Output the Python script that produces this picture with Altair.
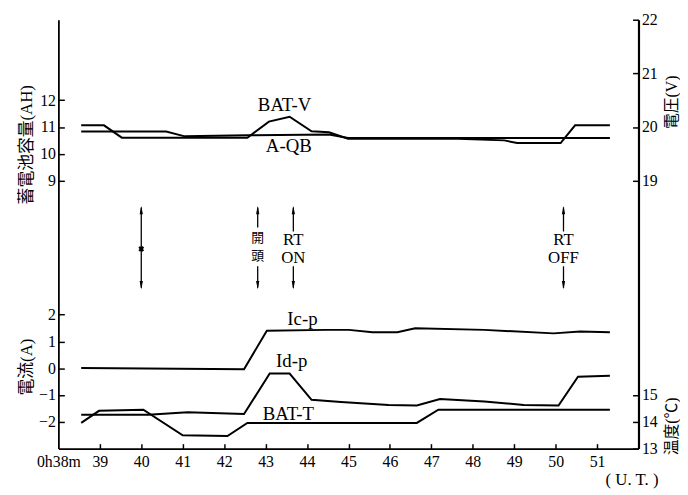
import altair as alt
import pandas as pd

# ---- data (minutes after 0h38m scale, U.T.) ----
batv_t = [38.55, 39.10, 39.53, 42.56, 43.08, 43.58, 44.11, 44.53, 44.99, 47.64, 48.76, 49.07, 50.12, 50.47, 51.31]
batv_v = [20.03, 20.03, 19.80, 19.80, 20.10, 20.19, 19.92, 19.90, 19.78, 19.78, 19.75, 19.70, 19.70, 20.03, 20.03]

aqb_t = [38.55, 40.60, 41.05, 42.56, 44.53, 44.99, 51.31]
aqb_ah = [10.83, 10.83, 10.65, 10.69, 10.72, 10.59, 10.59]

icp_t = [38.55, 42.48, 43.03, 44.46, 45.01, 45.58, 46.18, 46.61, 48.28, 49.95, 50.59, 51.31]
icp_a = [0.01, -0.04, 1.40, 1.43, 1.43, 1.34, 1.34, 1.49, 1.43, 1.30, 1.37, 1.34]

idp_t = [38.55, 40.17, 41.12, 42.48, 43.10, 43.58, 44.11, 44.82, 45.97, 46.65, 47.21, 48.28, 49.23, 50.07, 50.54, 51.31]
idp_a = [-1.74, -1.74, -1.64, -1.71, -0.20, -0.20, -1.18, -1.26, -1.37, -1.39, -1.15, -1.24, -1.37, -1.39, -0.32, -0.28]

batt_t = [38.55, 38.98, 40.05, 41.00, 42.08, 42.56, 46.65, 47.17, 51.31]
batt_c = [13.96, 14.41, 14.45, 13.50, 13.47, 13.96, 13.96, 14.45, 14.45]

# event arrows (drawn on the capacity scale)
arrow_t = [40.0, 42.81, 43.67, 50.19]
seg_t = [40.0, 42.81, 42.81, 43.67, 43.67, 50.19, 50.19]
seg_y1 = [8.0, 8.0, 5.8, 8.0, 5.8, 8.0, 5.8]
seg_y2 = [5.0, 7.25, 5.0, 7.1, 5.0, 7.1, 5.0]
arrow_top = [7.9, 7.9, 7.9, 7.9]
arrow_bot = [5.1, 5.1, 5.1, 5.1]
cross_t = [40.0]
cross_y = [6.45]
ev_text = ["RT", "ON", "RT", "OFF"]
ev_t = [43.67, 43.67, 50.19, 50.19]
ev_y = [6.78, 6.10, 6.78, 6.10]
ev_cjk = ["開", "頭"]
ev_cjk_t = [42.81, 42.81]
ev_cjk_y = [6.86, 6.20]

# series labels
lab_v = (["BAT-V"], [43.46], [20.40])
lab_ah = (["A-QB"], [43.56], [10.28])
lab_a = (["Ic-p", "Id-p"], [43.89, 43.63], [1.83, 0.26])
lab_c = (["BAT-T"], [43.55], [14.29])

x_ticks = list(range(39, 52))
x_labels = list(range(38, 52))
ah_ticks = [9, 10, 11, 12]
v_ticks = [19, 20, 21, 22]
a_ticks = [-2, -1, 0, 1, 2]
c_ticks = [13, 14, 15]

FONT = "Liberation Serif, Noto Sans CJK JP"
CJK = "Noto Sans CJK JP, Liberation Serif"

X = alt.Scale(domain=[38, 52], nice=False, zero=False)
S_AH = alt.Scale(domain=[-1, 15], nice=False, zero=False)
S_V = alt.Scale(domain=[14, 22], nice=False, zero=False)
S_A = alt.Scale(domain=[-3, 13], nice=False, zero=False)
S_C = alt.Scale(domain=[13, 29], nice=False, zero=False)

LINE = dict(color="black", strokeWidth=2)


def df(t, y, s=None):
    d = {"t": t, "y": y}
    if s is not None:
        d["s"] = s
    return pd.DataFrame(d)


def xn():
    return alt.X("t:Q", scale=X, axis=None)


def yn(scale):
    return alt.Y("y:Q", scale=scale, axis=None)


x_main_axis = alt.Axis(orient="bottom", values=x_labels, domain=True, ticks=False, tickSize=0,
                       labelPadding=5, labelFlush=False, labelOverlap=False,
                       labelExpr="datum.value == 38 ? '0h38m' : datum.label",
                       title="( U. T. )", titleX=580, titleY=31, titleAlign="center",
                       titleBaseline="middle")
x_tick_axis = alt.Axis(orient="bottom", values=x_ticks, domain=False, labels=False,
                       ticks=True, tickSize=5, offset=-5, title=None)

l_aqb = alt.Chart(df(aqb_t, aqb_ah)).mark_line(**LINE).encode(
    x=alt.X("t:Q", scale=X, axis=x_main_axis),
    y=alt.Y("y:Q", scale=S_AH, axis=alt.Axis(
        orient="left", values=ah_ticks, offset=-6, tickSize=6, domain=False, labelPadding=3,
        title="蓄電池容量(AH)", titleX=-38, titleY=126, titleAngle=270,
        titleAlign="center", titleBaseline="middle")),
)

l_batv = alt.Chart(df(batv_t, batv_v)).mark_line(**LINE).encode(
    x=alt.X("t:Q", scale=X, axis=x_tick_axis),
    y=alt.Y("y:Q", scale=S_V, axis=alt.Axis(
        orient="right", values=v_ticks, offset=-6, tickSize=6, domain=False, labelPadding=3,
        title="電圧(V)", titleX=39, titleY=83, titleAngle=270, titleFontSize=16,
        titleAlign="center", titleBaseline="middle")),
)

l_icp = alt.Chart(df(icp_t, icp_a)).mark_line(**LINE).encode(
    x=xn(),
    y=alt.Y("y:Q", scale=S_A, axis=alt.Axis(
        orient="left", values=a_ticks, offset=-6, tickSize=6, domain=False, labelPadding=3,
        title="電流(A)", titleX=-38, titleY=351, titleAngle=270,
        titleAlign="center", titleBaseline="middle")),
)

l_batt = alt.Chart(df(batt_t, batt_c)).mark_line(**LINE).encode(
    x=xn(),
    y=alt.Y("y:Q", scale=S_C, axis=alt.Axis(
        orient="right", values=c_ticks, offset=-6, tickSize=6, domain=False, labelPadding=3,
        title="温度(℃)", titleX=39, titleY=411, titleAngle=270, titleFontSize=16,
        titleAlign="center", titleBaseline="middle")),
)

l_idp = alt.Chart(df(idp_t, idp_a)).mark_line(**LINE).encode(
    x=xn(),
    y=alt.Y("y:Q", scale=S_A, axis=alt.Axis(
        orient="right", domain=True, ticks=False, labels=False, title=None, domainWidth=2.2)),
)

seg_df = pd.DataFrame({"t": seg_t, "y": seg_y1, "y2": seg_y2})
l_seg = alt.Chart(seg_df).mark_rule(color="black", strokeWidth=1.3).encode(
    x=xn(),
    y=alt.Y("y:Q", scale=S_AH, axis=alt.Axis(
        orient="left", domain=True, ticks=False, labels=False, title=None)),
    y2="y2:Q",
)

l_up = alt.Chart(df(arrow_t, arrow_top)).mark_point(
    shape="M0,-1L-0.4,1L0.4,1Z", filled=True, color="black", opacity=1, size=70
).encode(x=xn(), y=yn(S_AH))

l_down = alt.Chart(df(arrow_t, arrow_bot)).mark_point(
    shape="M0,1L-0.4,-1L0.4,-1Z", filled=True, color="black", opacity=1, size=70
).encode(x=xn(), y=yn(S_AH))

l_cross = alt.Chart(df(cross_t, cross_y)).mark_point(
    shape="cross", angle=45, filled=True, color="black", opacity=1, size=35
).encode(x=xn(), y=yn(S_AH))

l_evtext = alt.Chart(df(ev_t, ev_y, ev_text)).mark_text(
    font=FONT, fontSize=17, color="black", align="center", baseline="middle"
).encode(x=xn(), y=yn(S_AH), text="s:N")

l_evcjk = alt.Chart(df(ev_cjk_t, ev_cjk_y, ev_cjk)).mark_text(
    font=CJK, fontSize=13, color="black", align="center", baseline="middle"
).encode(x=xn(), y=yn(S_AH), text="s:N")


def label_layer(lab, scale):
    s, t, y = lab
    return alt.Chart(df(t, y, s)).mark_text(
        font=FONT, fontSize=19, color="black", align="center", baseline="middle"
    ).encode(x=xn(), y=yn(scale), text="s:N")


chart = alt.layer(
    l_aqb, l_batv, l_icp, l_batt, l_idp, l_seg, l_up, l_down, l_cross, l_evtext, l_evcjk,
    label_layer(lab_ah, S_AH), label_layer(lab_v, S_V),
    label_layer(lab_a, S_A), label_layer(lab_c, S_C),
).resolve_scale(y="independent").resolve_axis(x="independent").properties(
    width=587, height=434,
    autosize=alt.AutoSizeParams(type="none"),
    padding={"left": 51, "top": 9, "right": 42, "bottom": 40},
    background="white",
).configure_axis(
    labelFont=FONT, labelFontSize=16, labelColor="black",
    titleFont=FONT, titleFontSize=17, titleFontWeight="normal", titleColor="black",
    domainColor="black", domainWidth=1.8, tickColor="black", tickWidth=1.5, grid=False,
).configure_view(stroke=None)

chart.save("out.html", embed_options={"renderer": "svg", "actions": False})
